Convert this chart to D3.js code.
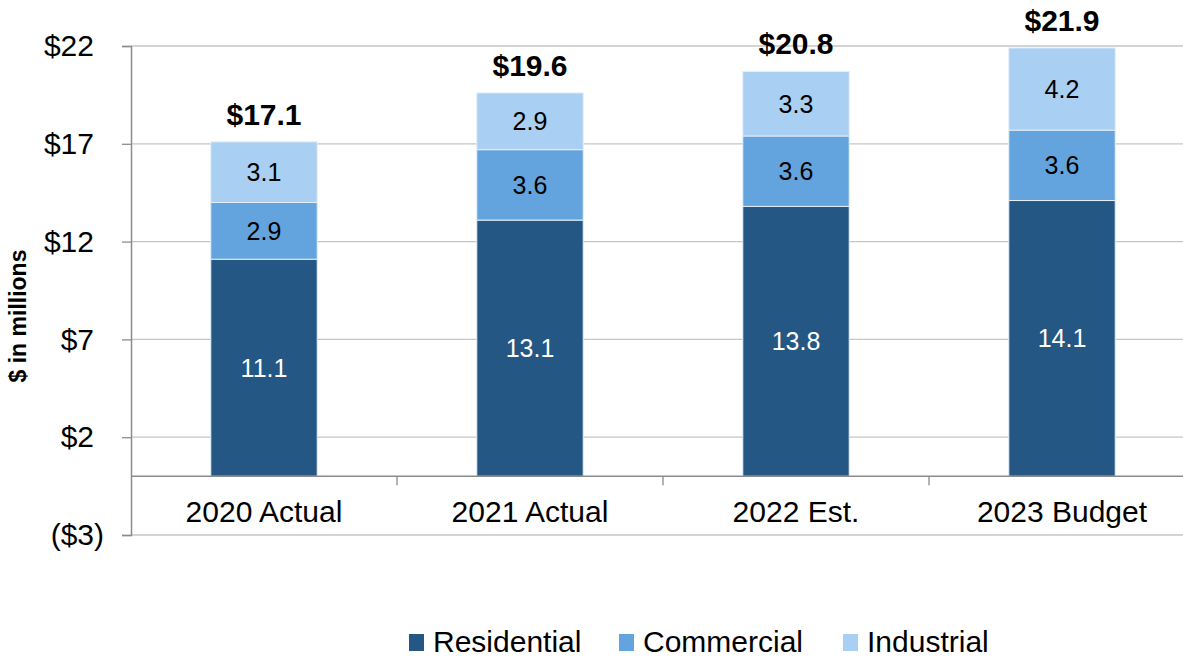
<!DOCTYPE html>
<html><head><meta charset="utf-8">
<script src="https://cdn.jsdelivr.net/npm/d3@7"></script>
<style>body{margin:0;background:#fff}svg{display:block;font-family:"Liberation Sans",Arial,sans-serif}</style>
</head><body>
<svg id="c" width="1183" height="658"></svg>
<script>
const categories = ["2020 Actual","2021 Actual","2022 Est.","2023 Budget"];
const residential = [11.1,13.1,13.8,14.1];
const commercial = [2.9,3.6,3.6,3.6];
const industrial = [3.1,2.9,3.3,4.2];
const totals = ["$17.1","$19.6","$20.8","$21.9"];
const seriesNames = ["Residential","Commercial","Industrial"];
const yTicks = [-3,2,7,12,17,22];
const colors = ["#245783","#63A4DE","#A9CFF2"];

const svg = d3.select("#c");
const pL = 131, pR = 1195, pT = 46, pB = 535;
const y = d3.scaleLinear().domain([-3,22]).range([pB, pT]);
const x = d3.scaleBand().domain(categories).range([pL, pR]).padding(0);
const bw = x.bandwidth()*0.4;

// gridlines
svg.append("g").selectAll("line").data(yTicks).join("line")
  .attr("x1",pL).attr("x2",pR).attr("y1",d=>y(d)).attr("y2",d=>y(d))
  .attr("stroke","#c6c6c6").attr("stroke-width",1.3);

// y axis
const yAxis = d3.axisLeft(y).tickValues(yTicks).tickSize(9).tickPadding(18)
  .tickFormat(v=> v<0 ? `($${-v})` : `$${v}`);
const ga = svg.append("g").attr("transform",`translate(${pL},0)`).call(yAxis);
ga.select(".domain").attr("stroke","#8c8c8c").attr("stroke-width",1.5);
ga.selectAll(".tick line").attr("stroke","#8c8c8c").attr("stroke-width",1.3);
ga.selectAll(".tick text").attr("font-size",30).attr("fill","#000")
  .attr("font-family","Liberation Sans, Arial, sans-serif")
  .attr("dx",d=> d<0 ? 0 : -10);

// stacked data
const rows = categories.map((c,i)=>({cat:c, Residential:residential[i], Commercial:commercial[i], Industrial:industrial[i]}));
const stack = d3.stack().keys(seriesNames)(rows);

const gBars = svg.append("g");
stack.forEach((layer,si)=>{
  gBars.selectAll(null).data(layer).join("rect")
    .attr("x",d=>x(d.data.cat)+x.bandwidth()/2-bw/2)
    .attr("width",bw)
    .attr("y",d=>y(d[1]))
    .attr("height",d=>y(d[0])-y(d[1]))
    .attr("fill",colors[si])
    .attr("stroke","#e3eef8").attr("stroke-width",1);
  gBars.selectAll(null).data(layer).join("text")
    .attr("x",d=>x(d.data.cat)+x.bandwidth()/2)
    .attr("y",d=>(y(d[0])+y(d[1]))/2)
    .attr("dy","0.36em")
    .attr("text-anchor","middle")
    .attr("font-size",25)
    .attr("fill", si===0 ? "#fff" : "#000")
    .text(d=>(d[1]-d[0]).toFixed(1));
});

// totals
svg.append("g").selectAll("text").data(categories).join("text")
  .attr("x",c=>x(c)+x.bandwidth()/2)
  .attr("y",(c,i)=>y(stack[2][i][1])-17)
  .attr("text-anchor","middle").attr("font-size",30).attr("font-weight","bold")
  .text((c,i)=>totals[i]);

// x axis line at 0
svg.append("line").attr("x1",pL).attr("x2",pR).attr("y1",y(0)).attr("y2",y(0))
  .attr("stroke","#8c8c8c").attr("stroke-width",1.5);
svg.append("g").selectAll("line").data(categories.slice(1)).join("line")
  .attr("x1",c=>x(c)).attr("x2",c=>x(c)).attr("y1",y(0)).attr("y2",y(0)+9)
  .attr("stroke","#8c8c8c").attr("stroke-width",1.3);
svg.append("g").selectAll("text").data(categories).join("text")
  .attr("x",c=>x(c)+x.bandwidth()/2).attr("y",y(0)+46)
  .attr("text-anchor","middle").attr("font-size",30).text(c=>c);

// axis title
svg.append("text").attr("transform",`translate(26,316) rotate(-90)`)
  .attr("text-anchor","middle").attr("font-size",23).attr("font-weight","bold")
  .text("$ in millions");

// legend
const legX = [409,619,843];
const lg = svg.append("g");
seriesNames.forEach((n,i)=>{
  lg.append("rect").attr("x",legX[i]).attr("y",634).attr("width",15).attr("height",17).attr("fill",colors[i]);
  lg.append("text").attr("x",legX[i]+24).attr("y",652).attr("font-size",30).text(n);
});
</script>
</body></html>
